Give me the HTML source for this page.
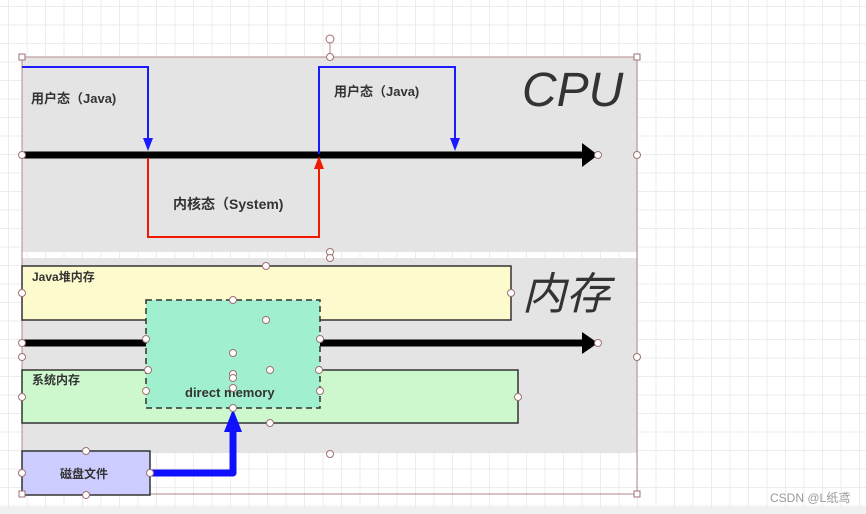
<!DOCTYPE html>
<html><head><meta charset="utf-8"><style>
body{margin:0;width:866px;height:514px;overflow:hidden;background:#fff;
background-image:linear-gradient(#ececec 1px,transparent 1px),linear-gradient(90deg,#ececec 1px,transparent 1px);background-size:18.5px 18.5px;background-position:8px 6px}
svg{position:absolute;left:0;top:0}
text{font-family:"Liberation Sans","Noto Sans CJK SC",sans-serif;fill:#333;font-weight:bold}
</style></head><body>
<svg width="866" height="514" viewBox="0 0 866 514">
<rect x="0" y="507" width="866" height="7" fill="#f0f0f0"/>
<rect x="22" y="57" width="615" height="195" fill="#e4e4e4"/>
<rect x="22" y="258" width="615" height="195" fill="#e4e4e4"/>
<rect x="22" y="57" width="615" height="437" fill="none" stroke="#b08a8a" stroke-width="1"/>
<line x1="330" y1="39" x2="330" y2="57" stroke="#b08a8a"/>
<circle cx="330" cy="39" r="4" fill="#fff" stroke="#a07070"/>
<text x="522" y="106" font-size="48" font-style="italic" style="fill:#333;font-weight:normal">CPU</text>
<text x="522" y="309" font-size="44" font-style="italic" style="fill:#333;font-weight:normal">内存</text>
<!-- CPU arrow -->
<line x1="22" y1="155" x2="585" y2="155" stroke="#000" stroke-width="7"/>
<polygon points="582,143 598,155 582,167" fill="#000"/>
<polyline points="22,67 148,67 148,140" fill="none" stroke="#1a1aff" stroke-width="2"/>
<polygon points="143,138 153,138 148,151" fill="#1a1aff"/>
<polyline points="148,158 148,237 319,237 319,168" fill="none" stroke="#f01a00" stroke-width="2"/>
<polygon points="314,169 324,169 319,156" fill="#f01a00"/>
<polyline points="319,154 319,67 455,67 455,140" fill="none" stroke="#1a1aff" stroke-width="2"/>
<polygon points="450,138 460,138 455,151" fill="#1a1aff"/>
<text x="31" y="103" font-size="13">用户态（Java)</text>
<text x="334" y="96" font-size="13">用户态（Java)</text>
<text x="173" y="209" font-size="14">内核态（System)</text>
<!-- memory -->
<rect x="22" y="266" width="489" height="54" fill="#fdfacd" stroke="#333" stroke-width="1.5"/>
<text x="32" y="281" font-size="12">Java堆内存</text>
<line x1="22" y1="343" x2="585" y2="343" stroke="#000" stroke-width="7"/>
<polygon points="582,332 598,343 582,354" fill="#000"/>
<rect x="22" y="370" width="496" height="53" fill="#cdf7cd" stroke="#333" stroke-width="1.5"/>
<text x="32" y="384" font-size="12">系统内存</text>
<rect x="146" y="300" width="174" height="108" fill="#a0f0d0" stroke="#333" stroke-width="1.5" stroke-dasharray="6,4"/>
<text x="185" y="397" font-size="13">direct memory</text>
<rect x="22" y="451" width="128" height="44" fill="#ccccff" stroke="#333" stroke-width="1.5"/>
<text x="60" y="478" font-size="12">磁盘文件</text>
<polyline points="150,473 233,473 233,428" fill="none" stroke="#1010ff" stroke-width="7" stroke-linejoin="round"/>
<polygon points="224,432 242,432 233,409" fill="#1010ff"/>
<g fill="#fff" stroke="#a07070" stroke-width="1">
<circle cx="22" cy="155" r="3.5"/><circle cx="598" cy="155" r="3.5"/><circle cx="637" cy="155" r="3.5"/>
<circle cx="330" cy="57" r="3.5"/><circle cx="330" cy="252" r="3.5"/><circle cx="330" cy="258" r="3.5"/>
<circle cx="266" cy="266" r="3.5"/><circle cx="22" cy="293" r="3.5"/><circle cx="511" cy="293" r="3.5"/>
<circle cx="233" cy="300" r="3.5"/><circle cx="266" cy="320" r="3.5"/><circle cx="146" cy="339" r="3.5"/><circle cx="320" cy="339" r="3.5"/>
<circle cx="22" cy="343" r="3.5"/><circle cx="598" cy="343" r="3.5"/><circle cx="22" cy="357" r="3.5"/><circle cx="637" cy="357" r="3.5"/>
<circle cx="233" cy="353" r="3.5"/><circle cx="270" cy="370" r="3.5"/><circle cx="148" cy="370" r="3.5"/><circle cx="319" cy="370" r="3.5"/>
<circle cx="233" cy="374" r="3.5"/><circle cx="233" cy="378" r="3.5"/><circle cx="22" cy="397" r="3.5"/><circle cx="518" cy="397" r="3.5"/>
<circle cx="146" cy="391" r="3.5"/><circle cx="320" cy="391" r="3.5"/><circle cx="233" cy="388" r="3.5"/><circle cx="233" cy="408" r="3.5"/>
<circle cx="270" cy="423" r="3.5"/><circle cx="330" cy="454" r="3.5"/>
<circle cx="86" cy="451" r="3.5"/><circle cx="22" cy="473" r="3.5"/><circle cx="150" cy="473" r="3.5"/><circle cx="86" cy="495" r="3.5"/>
<rect x="19" y="54" width="6" height="6"/><rect x="634" y="54" width="6" height="6"/><rect x="19" y="491" width="6" height="6"/><rect x="634" y="491" width="6" height="6"/>
</g>
<text x="770" y="502" font-size="12" style="fill:#999;font-weight:normal">CSDN @L纸鸢</text>
</svg>
</body></html>
